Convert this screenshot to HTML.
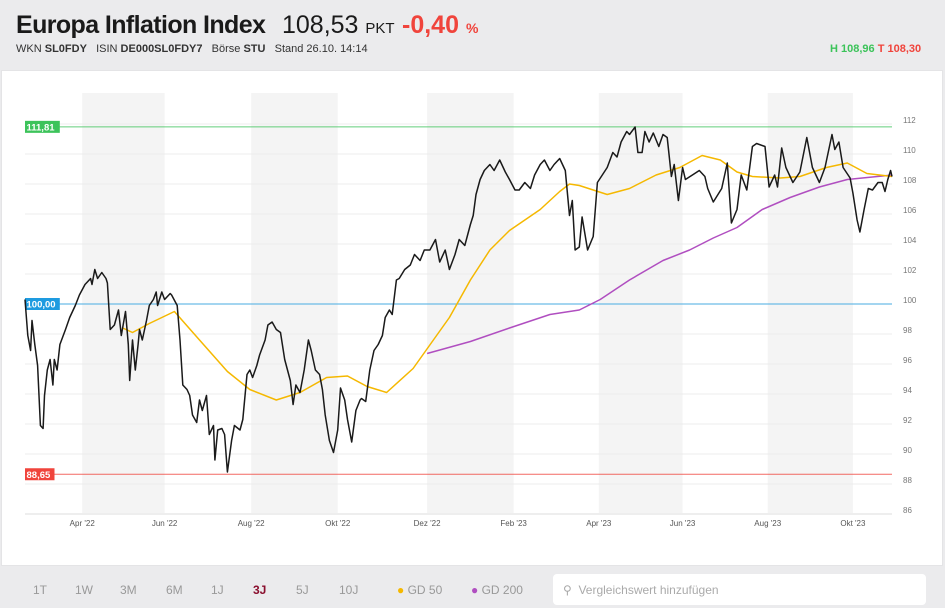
<!DOCTYPE html>
<html><head><meta charset="utf-8">
<style>
*{margin:0;padding:0;box-sizing:border-box}
body{width:945px;height:608px;background:#ebebed;font-family:"Liberation Sans",sans-serif;position:relative;overflow:hidden;color:#1a1a1a}
.abs{position:absolute;white-space:nowrap}
#card{position:absolute;left:1px;top:70px;width:942px;height:496px;background:#fff;border:1px solid #e4e4e6}
#foot{position:absolute;left:0;top:566px;width:945px;height:42px;background:#ebebed}
.per{position:absolute;top:583px;font-size:12px;color:#999}
</style></head><body>
<div class="abs" style="left:16px;top:11px;font-size:25px;font-weight:bold;letter-spacing:-0.6px">Europa Inflation Index</div>
<div class="abs" style="left:282px;top:11px;font-size:25px">108,53 <span style="font-size:15px">PKT</span></div>
<div class="abs" style="left:402px;top:11px;font-size:25px;font-weight:bold;color:#f0443c">-0,40 <span style="font-size:14px">%</span></div>
<div class="abs" style="left:16px;top:43px;font-size:11px;color:#333">WKN <b>SL0FDY</b>&nbsp;&nbsp; ISIN <b>DE000SL0FDY7</b>&nbsp;&nbsp; Börse <b>STU</b>&nbsp;&nbsp; Stand 26.10. 14:14</div>
<div class="abs" style="left:830px;top:43px;font-size:11px;font-weight:bold"><span style="color:#3cc35a">H 108,96</span> <span style="color:#f0443c">T 108,30</span></div>
<div id="card"></div>
<svg id="chart" width="945" height="608" style="position:absolute;left:0;top:0"></svg>
<div id="foot"></div>
<div class="per" style="left:33px">1T</div>
<div class="per" style="left:75px">1W</div>
<div class="per" style="left:120px">3M</div>
<div class="per" style="left:166px">6M</div>
<div class="per" style="left:211px">1J</div>
<div class="per" style="left:253px;color:#8a0f2e;font-weight:bold">3J</div>
<div class="per" style="left:296px">5J</div>
<div class="per" style="left:339px">10J</div>
<div class="per" style="left:397px;color:#999"><span style="color:#f5b800">●</span> GD 50</div>
<div class="per" style="left:471px;color:#999"><span style="color:#b04ec0">●</span> GD 200</div>
<div class="abs" style="left:553px;top:574px;width:373px;height:31px;background:#fff;border-radius:4px;font-size:12px;color:#aaa;padding:9px 0 0 10px">&#9906;&nbsp; Vergleichswert hinzufügen</div>
<script>
const priceDays=[0,2,4,5,7,9,11,13,14,16,18,20,21,23,25,29,32,36,39,43,47,48,50,52,55,58,59,61,64,67,69,72,74,75,77,79,81,82,84,87,89,92,94,95,98,100,104,105,109,111,113,116,118,120,123,125,127,130,132,135,136,138,141,143,145,148,150,154,156,159,161,163,166,168,172,174,177,180,183,186,190,192,194,197,200,203,205,208,211,213,215,218,221,224,226,229,231,234,237,240,241,244,247,250,253,256,258,261,263,266,268,272,276,279,283,286,290,294,297,301,304,308,311,315,319,321,323,326,329,333,336,340,344,347,351,354,358,362,365,369,372,376,379,383,387,390,392,394,397,399,403,407,410,417,421,424,427,431,433,437,439,442,444,447,450,454,457,460,463,465,468,471,473,478,483,487,489,493,499,503,506,510,513,517,521,524,530,533,537,539,542,545,550,555,560,564,569,573,578,580,583,586,591,593,596,598,601,604,607,611,614,616,618,620,621];
const priceValues=[100.3,97.9,96.9,98.9,97.3,95.9,91.9,91.7,93.9,95.6,96.3,94.6,96.3,95.6,97.3,98.3,99.1,99.9,100.6,101.3,101.7,101.3,102.3,101.7,102.1,101.7,101.4,98.3,98.6,99.6,97.9,99.5,97.3,94.9,97.6,95.6,97.3,98.3,97.6,98.9,99.9,100.3,100.8,99.9,100.8,100.3,100.7,100.6,99.9,97.6,94.6,94.3,93.9,92.6,92.1,93.6,92.9,93.9,91.3,91.9,89.6,91.6,91.7,91.3,88.8,90.9,91.9,91.6,92.3,95.3,95.6,95.1,95.9,96.6,97.6,98.6,98.8,98.3,98.1,96.3,94.9,93.3,94.6,94.1,95.6,97.6,96.9,95.6,95.3,94.3,92.6,90.9,90.1,91.6,94.4,93.6,92.3,90.8,92.9,93.6,93.7,93.5,95.6,96.9,97.3,97.9,99.1,99.6,99.3,101.6,101.7,102.3,102.6,103.3,102.9,103.6,103.6,104.3,102.8,103.6,102.3,103.3,104.3,103.9,105.3,105.9,107.3,108.3,108.9,109.3,108.9,109.6,108.8,108.3,107.6,107.6,108.1,107.7,108.6,109.3,109.6,108.9,109.3,109.7,108.9,105.9,106.9,103.6,103.8,105.8,103.6,104.5,108.1,109.1,110.1,109.8,110.8,111.5,111.3,111.8,110.1,110.1,111.5,110.8,111.4,110.5,111.3,111.1,108.5,109.3,106.9,109.1,108.3,108.6,108.9,108.5,107.7,106.8,107.7,109.4,105.4,106.3,108.6,107.6,110.5,110.7,110.5,107.8,108.6,107.8,110.4,109.1,108.1,108.8,111.1,109.1,108.1,109.1,111.3,110.3,110.8,109.1,108.4,107.4,105.6,104.8,106.3,107.7,107.6,108.1,108.1,107.5,108.3,108.9,108.5];
const gd50Days=[70,77,89,107,125,145,161,180,197,216,231,245,259,278,304,319,333,347,369,383,390,397,417,433,452,469,485,498,510,521,541,555,574,589,603,621];
const gd50Values=[98.4,98.1,98.7,99.5,97.6,95.5,94.3,93.6,94.1,95.1,95.2,94.5,94.1,95.7,99.1,101.6,103.6,104.9,106.3,107.5,108.0,107.9,107.3,107.7,108.6,109.1,109.9,109.6,108.8,108.5,108.4,108.5,109.1,109.4,108.7,108.5];
const gd200Days=[288,319,347,376,397,412,433,457,476,493,510,528,548,569,589,621];
const gd200Values=[96.7,97.5,98.4,99.3,99.6,100.3,101.6,102.9,103.6,104.4,105.1,106.3,107.1,107.8,108.3,108.6];
const yTicks=[112,110,108,106,104,102,100,98,96,94,92,90,88,86];
const monthLabels=["Apr '22","Jun '22","Aug '22","Okt '22","Dez '22","Feb '23","Apr '23","Jun '23","Aug '23","Okt '23"];
const monthDays=[41,100,162,224,288,350,411,471,532,593];
const levelValues=[111.81,100.00,88.65];
const levelLabels=["111,81","100,00","88,65"];
const levelColors=["#3cc35a","#1e9be0","#f0443c"];

const NS="http://www.w3.org/2000/svg";
const svg=document.getElementById('chart');
const X0=25,X1=892,D0=0,D1=621;
const xs=d=>X0+(d-D0)/(D1-D0)*(X1-X0);
const ys=v=>304-(v-100)*15;
function mk(t,a){const e=document.createElementNS(NS,t);for(const k in a)e.setAttribute(k,a[k]);svg.appendChild(e);return e;}
for(let i=0;i<monthDays.length;i+=2){
  const x1=xs(monthDays[i]),x2=i+1<monthDays.length?xs(monthDays[i+1]):X1;
  const r=mk('rect',{x:x1,y:93,width:x2-x1,height:420,fill:'#f4f4f4'});
  
  
}
yTicks.forEach(v=>{
  const l=mk('line',{x1:X0,x2:X1,y1:ys(v),y2:ys(v),stroke:'#ececec','stroke-width':1});
  
  
  const t=mk('text',{x:903,y:ys(v)-1,'font-size':8,fill:'#777','font-family':'Liberation Sans, sans-serif'});
  t.textContent=v;
  
  
});
const ax=mk('line',{x1:X0,x2:X1,y1:514,y2:514,stroke:'#ddd','stroke-width':1});


monthLabels.forEach((m,i)=>{
  const t=mk('text',{x:xs(monthDays[i]),y:526,'font-size':8,fill:'#555','text-anchor':'middle','font-family':'Liberation Sans, sans-serif'});
  t.textContent=m;
  
  
});
levelValues.forEach((v,i)=>{
  const l=mk('line',{x1:X0,x2:X1,y1:ys(v),y2:ys(v),stroke:levelColors[i],'stroke-width':1,opacity:0.8});
  
  
  const w=levelLabels[i].length*5.3+3;
  const r=mk('rect',{x:X0,y:ys(v)-6,width:w,height:12,fill:levelColors[i]});
  
  
  const t=mk('text',{x:X0+1.5,y:ys(v)+3.5,'font-size':9.5,'font-weight':'bold',fill:'#fff','font-family':'Liberation Sans, sans-serif'});
  t.textContent=levelLabels[i];
  
  
});
function path(days,vals,color,w,name){
  const d=days.map((dd,i)=>(i?'L':'M')+xs(dd).toFixed(1)+','+ys(vals[i]).toFixed(1)).join('');
  const p=mk('path',{d:d,fill:'none',stroke:color,'stroke-width':w,'stroke-linejoin':'round'});
  
  
}
path(gd200Days,gd200Values,'#b04ec0',1.5,'gd200-line');
path(gd50Days,gd50Values,'#f5b800',1.5,'gd50-line');
path(priceDays,priceValues,'#1a1a1a',1.5,'price-line');
</script>
</body></html>
